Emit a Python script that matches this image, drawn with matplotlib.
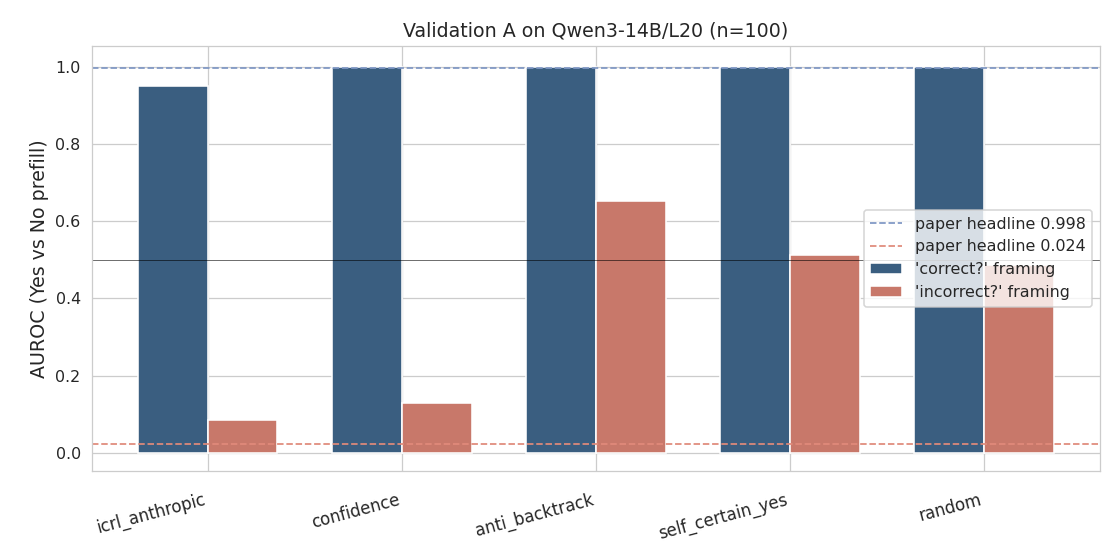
import numpy as np
import matplotlib
matplotlib.use('agg')
import matplotlib.pyplot as plt
import seaborn as sns

sns.set_style("whitegrid")

# values
prompts = ["icrl_anthropic", "confidence", "anti_backtrack", "self_certain_yes", "random"]
auroc_correct = [0.95, 1.0, 1.0, 1.0, 1.0]
auroc_incorrect = [0.085, 0.13, 0.653, 0.513, 0.487]
headline_hi = 0.998
headline_lo = 0.024

dpi = 114.3
fig, ax = plt.subplots(figsize=(1120 / dpi, 560 / dpi), dpi=dpi)
x = np.arange(len(prompts))
w = 0.36
ax.bar(x - w / 2, auroc_correct, w, color="#3a5e80", edgecolor="white",
       label="'correct?' framing")
ax.bar(x + w / 2, auroc_incorrect, w, color="#c8786a", edgecolor="white",
       label="'incorrect?' framing")
ax.axhline(headline_hi, color="#7f97c4", linestyle="--", linewidth=1.1,
           label=f"paper headline {headline_hi}")
ax.axhline(headline_lo, color="#e08a7a", linestyle="--", linewidth=1.1,
           label=f"paper headline {headline_lo}")
ax.axhline(0.5, color="black", linewidth=0.5, alpha=0.7)

ax.set_xticks(x)
ax.set_xticklabels(prompts, rotation=15, ha="right")
ax.tick_params(axis="x", pad=9, labelsize=10.5)
ax.set_ylim(-0.047, 1.054)
ax.set_ylabel("AUROC (Yes vs No prefill)", fontsize=12)
ax.set_title("Validation A on Qwen3-14B/L20 (n=100)")
ax.legend(loc="center right")

fig.subplots_adjust(left=0.082, right=0.982, top=0.918, bottom=0.159)
fig.savefig("out.png", dpi=dpi)
